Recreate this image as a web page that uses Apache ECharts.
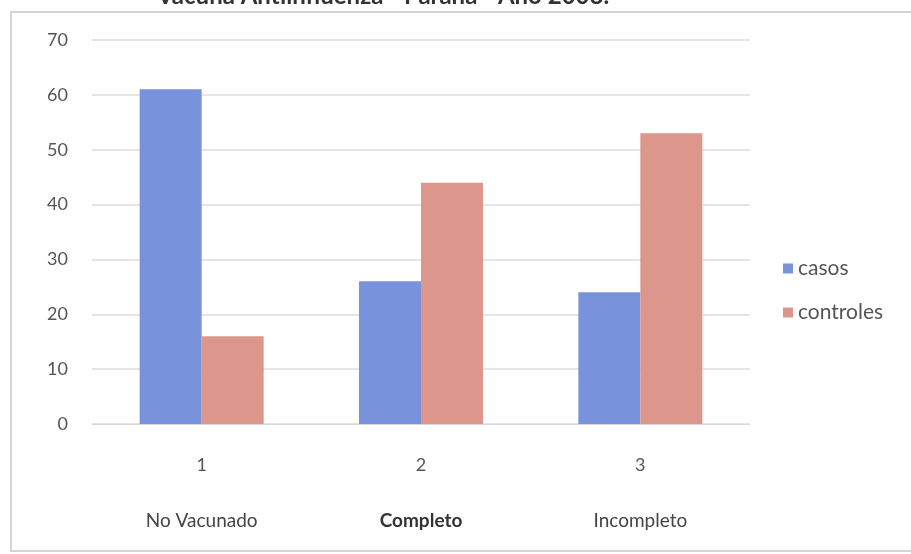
<!DOCTYPE html>
<html>
<head>
<meta charset="utf-8">
<script src="https://cdn.jsdelivr.net/npm/echarts@6/dist/echarts.min.js"></script>
<style>
  html, body { margin: 0; padding: 0; background: #ffffff; }
  #chart { width: 911px; height: 554px; }
</style>
</head>
<body>
<div id="chart"></div>
<script>
// Vaccination status: cases vs. controls
const tickLabels = ['1', '2', '3'];
const groupNames = ['No Vacunado', 'Completo', 'Incompleto'];
const casos = [61, 26, 24];
const controles = [16, 44, 53];
const seriesNames = ['casos', 'controles'];
const titleText = 'Vacuna Antiinfluenza - Paraná - Año 2008.';

const FONT = 'Lato, "Open Sans", sans-serif';
const chart = echarts.init(document.getElementById('chart'), null, { renderer: 'canvas' });

chart.setOption({
  backgroundColor: '#ffffff',
  animation: false,
  title: {
    text: titleText,
    left: 152,
    top: -21,
    textStyle: { fontFamily: FONT, fontSize: 24, fontWeight: 'bold', color: '#333' }
  },
  graphic: [
    {
      type: 'rect',
      shape: { x: 11, y: 12, width: 920, height: 539 },
      style: { fill: 'none', stroke: '#d4d4d4', lineWidth: 2 },
      silent: true
    }
  ],
  legend: {
    orient: 'vertical',
    left: 778,
    top: 253,
    itemWidth: 10,
    itemHeight: 10,
    itemGap: 23,
    icon: 'rect',
    data: seriesNames,
    textStyle: { fontFamily: FONT, fontSize: 21, color: '#555' }
  },
  grid: { left: 92, top: 40, width: 658, height: 384, containLabel: false },
  xAxis: [
    {
      type: 'category',
      data: tickLabels,
      axisLine: { lineStyle: { color: '#d9d9d9' } },
      axisTick: { show: false },
      axisLabel: { margin: 32, fontFamily: FONT, fontSize: 18, color: '#555' }
    },
    {
      type: 'category',
      position: 'bottom',
      offset: 0,
      data: groupNames.map((g, i) => ({
        value: g,
        textStyle: { fontWeight: i === 1 ? 'bold' : 'normal', color: i === 1 ? '#333' : '#444' }
      })),
      axisLine: { show: false },
      axisTick: { show: false },
      axisLabel: { margin: 87, fontFamily: FONT, fontSize: 19 }
    }
  ],
  yAxis: {
    type: 'value',
    min: 0,
    max: 70,
    interval: 10,
    axisLine: { show: false },
    axisTick: { show: false },
    splitLine: { lineStyle: { color: '#dcdcdc', width: 1.5 } },
    axisLabel: { margin: 24, fontFamily: FONT, fontSize: 18, color: '#555' }
  },
  series: [
    {
      name: seriesNames[0],
      type: 'bar',
      data: casos,
      barWidth: 62,
      barGap: '0%',
      itemStyle: { color: '#7892dc' }
    },
    {
      name: seriesNames[1],
      type: 'bar',
      data: controles,
      barWidth: 62,
      barGap: '0%',
      itemStyle: { color: '#dc968b' }
    }
  ]
});
</script>
</body>
</html>
